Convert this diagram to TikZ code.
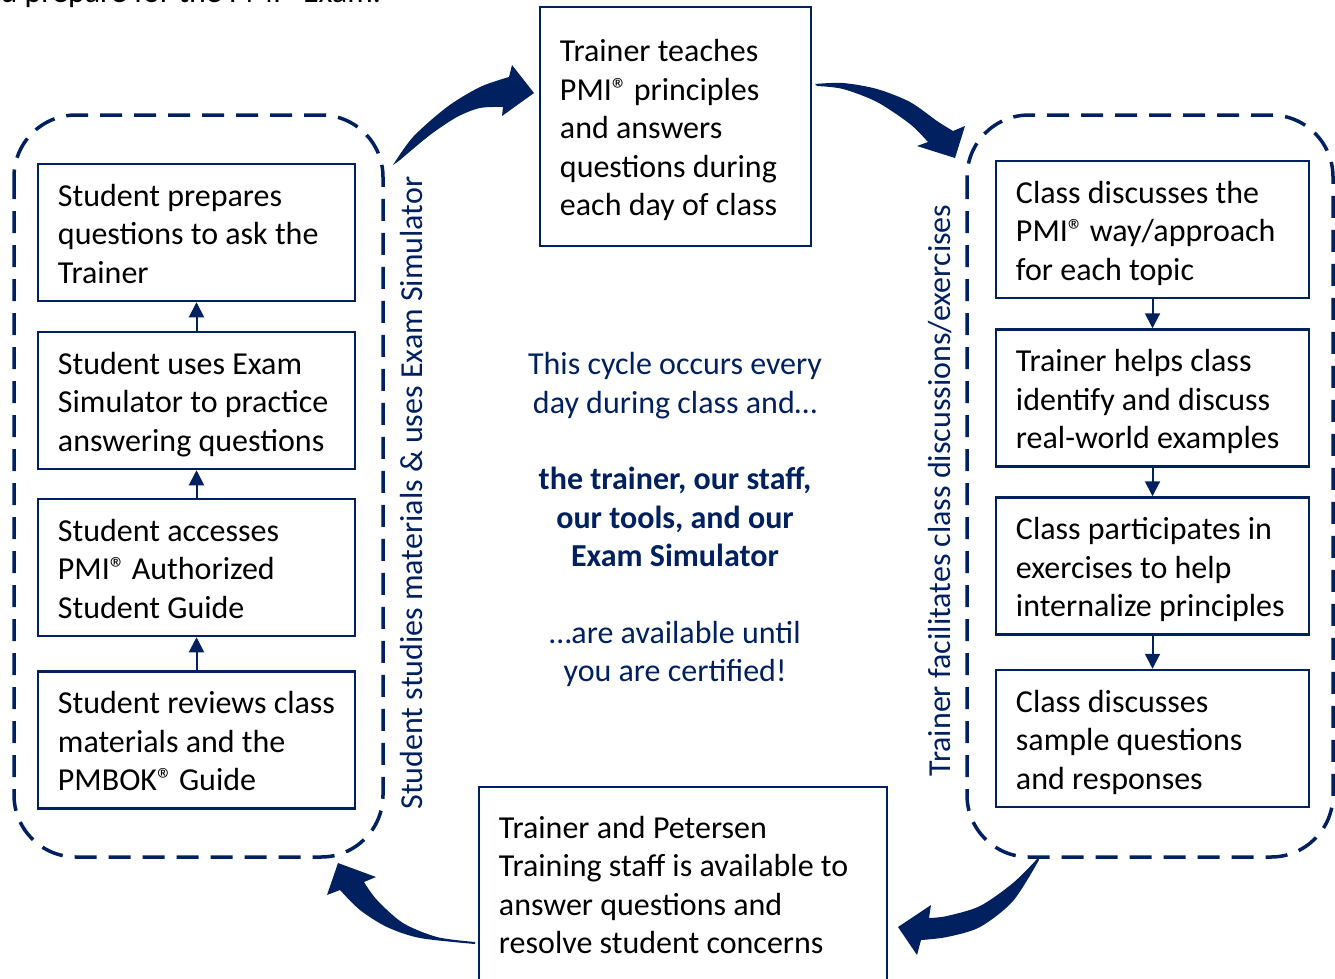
\documentclass[tikz,border=0pt]{standalone}
\usepackage{fontspec}
\setmainfont{Carlito}
\usetikzlibrary{arrows.meta}
\definecolor{navy}{HTML}{002060}
\newcommand\regmk{®\kern-1.5pt}
\begin{document}
\begin{tikzpicture}[x=1pt,y=-1pt,
  txt/.style={font=\fontsize{32}{38.5}\selectfont},
  box/.style={draw=navy,line width=2.5pt,inner sep=0pt},
  lbox/.style={box,minimum width=317pt,minimum height=137pt},
  rbox/.style={box,minimum width=313pt,minimum height=137pt},
  btxt/.style={txt,anchor=west,align=left,inner sep=0pt,text depth=0pt,text=black},
  grp/.style={draw=navy,line width=3.5pt,dash pattern=on 22pt off 12pt,rounded corners=62pt},
  uparr/.style={draw=navy,line width=2pt,-{Triangle[width=15pt,length=15pt]}},
  mid/.style={txt,text=navy,align=center},
  side/.style={font=\fontsize{32}{38.5}\selectfont,text=navy,rotate=90},
]
\useasboundingbox (0,0) rectangle (1335,978);
\node[txt,anchor=base west] (top) at (-3,2) {d prepare for the PMI\regmk{} Exam.};

% group outlines
\draw[grp] (14,115) rectangle (383,857);
\draw[grp] (967,115) rectangle (1333,857);

% left column
\node[lbox] (l1) at (196.5,232.5) {};
\node[lbox] (l2) at (196.5,400.5) {};
\node[lbox] (l3) at (196.5,567.5) {};
\node[lbox] (l4) at (196.5,740) {};
\node[btxt] (l1t) at ([xshift=21pt,yshift=-1pt]l1.west) {Student prepares\\questions to ask the\\Trainer};
\node[btxt] (l2t) at ([xshift=21pt,yshift=-1pt]l2.west) {Student uses Exam\\Simulator to practice\\answering questions};
\node[btxt] (l3t) at ([xshift=21pt,yshift=-1pt]l3.west) {Student accesses\\PMI\regmk{} Authorized\\Student Guide};
\node[btxt] (l4t) at ([xshift=21pt,yshift=-1pt]l4.west) {Student reviews class\\materials and the\\PMBOK\regmk{} Guide};
\draw[uparr] (l2.north) -- (l1.south);
\draw[uparr] (l3.north) -- (l2.south);
\draw[uparr] (l4.north) -- (l3.south);

% right column
\node[rbox] (r1) at (1152.5,229.5) {};
\node[rbox] (r2) at (1152.5,398) {};
\node[rbox] (r3) at (1152.5,566) {};
\node[rbox] (r4) at (1152.5,738.5) {};
\node[btxt] (r1t) at ([xshift=21pt,yshift=-1pt]r1.west) {Class discusses the\\PMI\regmk{} way/approach\\for each topic};
\node[btxt] (r2t) at ([xshift=21pt,yshift=-1pt]r2.west) {Trainer helps class\\identify and discuss\\real-world examples};
\node[btxt] (r3t) at ([xshift=21pt,yshift=-1pt]r3.west) {Class participates in\\exercises to help\\internalize principles};
\node[btxt] (r4t) at ([xshift=21pt,yshift=-1pt]r4.west) {Class discusses\\sample questions\\and responses};
\draw[uparr] (r1.south) -- (r2.north);
\draw[uparr] (r2.south) -- (r3.north);
\draw[uparr] (r3.south) -- (r4.north);

% top and bottom boxes
\node[box,minimum width=271pt,minimum height=239pt] (tb) at (675.5,126.5) {};
\node[btxt] (tbt) at ([xshift=21pt,yshift=-1pt]tb.west)
  {Trainer teaches\\PMI\regmk{} principles\\and answers\\questions during\\each day of class};
\node[box,minimum width=408pt,minimum height=195pt] (bb) at (683,884.5) {};
\node[btxt] (bbt) at ([xshift=21pt,yshift=-0.5pt]bb.west)
  {Trainer and Petersen\\Training staff is available to\\answer questions and\\resolve student concerns};

% rotated labels
\node[side] (ll) at (412,493) {Student studies materials \& uses Exam Simulator};
\node[side] (rl) at (940,490.5) {Trainer facilitates class discussions/exercises};

% centre text
\node[mid] (c1) at (675,385.5) {This cycle occurs every\\day during class and…};
\node[mid,font=\fontsize{32}{38.5}\selectfont\bfseries] (c2) at (675,517) {the trainer, our staff,\\our tools, and our\\Exam Simulator};
\node[mid] (c3) at (675,654) {…are available until\\you are certified!};

% curved block arrows
\fill[navy] plot[smooth] coordinates {(393,165) (413,137) (447,107) (480,87) (509,77)}
  -- (512,65) -- (534,93) -- (502,116)
  -- plot[smooth] coordinates {(503,107) (480,108) (457,117) (430,135) (400,160)} -- cycle;
\fill[navy] plot[smooth] coordinates {(815,84) (843,83) (877,89) (910,102) (937,121) (953,131)}
  -- (965,126) -- (955,158) -- (917,146)
  -- plot[smooth] coordinates {(928,142) (910,124) (877,102) (843,89) (817,86)} -- cycle;
\fill[navy] plot[smooth] coordinates {(1038,858) (1013,883) (980,906) (947,916) (929,918)}
  -- (931,905) -- (898,927) -- (917,955)
  -- plot[smooth] coordinates {(921,940) (947,937) (980,927) (1013,901) (1039,860)} -- cycle;
\fill[navy] plot[smooth] coordinates {(475,942) (437,937) (403,923) (377,900) (364,882)}
  -- (376,877) -- (338,863) -- (327,895)
  -- plot[smooth] coordinates {(340,890) (360,910) (387,927) (420,938) (475,944)} -- cycle;
\end{tikzpicture}
\end{document}
